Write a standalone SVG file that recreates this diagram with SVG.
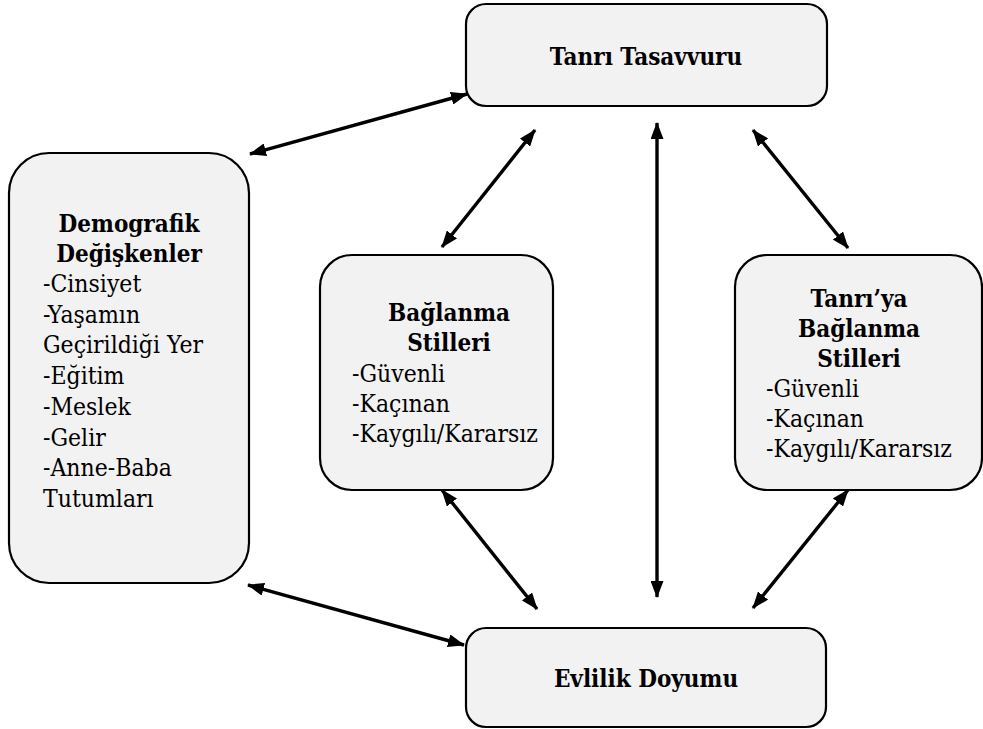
<svg xmlns="http://www.w3.org/2000/svg" width="983" height="729" viewBox="0 0 983 729">
<style>
.box{fill:#f2f2f2;stroke:#000;stroke-width:2.2}
text{font-family:'DejaVu Serif Condensed','DejaVu Serif',serif;font-stretch:condensed;font-size:24.5px;fill:#000}
.b{font-weight:bold;text-anchor:middle;font-size:24px}
.c{fill:none;stroke:#000;stroke-width:3.4}
</style>
<defs>
<marker id="ah" viewBox="0 0 17 13" refX="16" refY="6.5" markerWidth="17" markerHeight="13" markerUnits="userSpaceOnUse" orient="auto-start-reverse">
<path d="M0,0 L17,6.5 L0,13 z" fill="#000"/>
</marker>
</defs>
<rect width="983" height="729" fill="#fff"/>
<g id="connectors">
<line class="c" x1="250" y1="154" x2="467" y2="94" marker-start="url(#ah)" marker-end="url(#ah)"/>
<line class="c" x1="442" y1="247" x2="535" y2="130" marker-start="url(#ah)" marker-end="url(#ah)"/>
<line class="c" x1="657" y1="123" x2="657" y2="597" marker-start="url(#ah)" marker-end="url(#ah)"/>
<line class="c" x1="753" y1="130" x2="848" y2="248" marker-start="url(#ah)" marker-end="url(#ah)"/>
<line class="c" x1="442" y1="490" x2="537" y2="609" marker-start="url(#ah)" marker-end="url(#ah)"/>
<line class="c" x1="848" y1="490" x2="753" y2="608" marker-start="url(#ah)" marker-end="url(#ah)"/>
<line class="c" x1="248" y1="585" x2="464" y2="645" marker-start="url(#ah)" marker-end="url(#ah)"/>
</g>
<g id="tanri-tasavvuru">
<rect class="box" x="466" y="4" width="361" height="102" rx="20"/>
<text class="b" x="646" y="65">Tanrı Tasavvuru</text>
</g>
<g id="demografik">
<rect class="box" x="9" y="153" width="240" height="430" rx="40"/>
<text class="b" x="129" y="232">Demografik</text>
<text class="b" x="129" y="262">Değişkenler</text>
<text x="43" y="292">-Cinsiyet</text>
<text x="43" y="323">-Yaşamın</text>
<text x="43" y="353">Geçirildiği Yer</text>
<text x="43" y="384">-Eğitim</text>
<text x="43" y="415">-Meslek</text>
<text x="43" y="446">-Gelir</text>
<text x="43" y="476">-Anne-Baba</text>
<text x="43" y="507">Tutumları</text>
</g>
<g id="baglanma">
<rect class="box" x="320" y="255" width="233" height="235" rx="32"/>
<text class="b" x="449" y="321">Bağlanma</text>
<text class="b" x="449" y="351">Stilleri</text>
<text x="352" y="382">-Güvenli</text>
<text x="352" y="412">-Kaçınan</text>
<text x="352" y="442">-Kaygılı/Kararsız</text>
</g>
<g id="tanriya-baglanma">
<rect class="box" x="735" y="255" width="247" height="235" rx="32"/>
<text class="b" x="859" y="307">Tanrı’ya</text>
<text class="b" x="859" y="337">Bağlanma</text>
<text class="b" x="859" y="367">Stilleri</text>
<text x="766" y="397">-Güvenli</text>
<text x="766" y="427">-Kaçınan</text>
<text x="766" y="457">-Kaygılı/Kararsız</text>
</g>
<g id="evlilik-doyumu">
<rect class="box" x="466" y="628" width="360" height="99" rx="20"/>
<text class="b" x="646" y="687">Evlilik Doyumu</text>
</g>
</svg>
